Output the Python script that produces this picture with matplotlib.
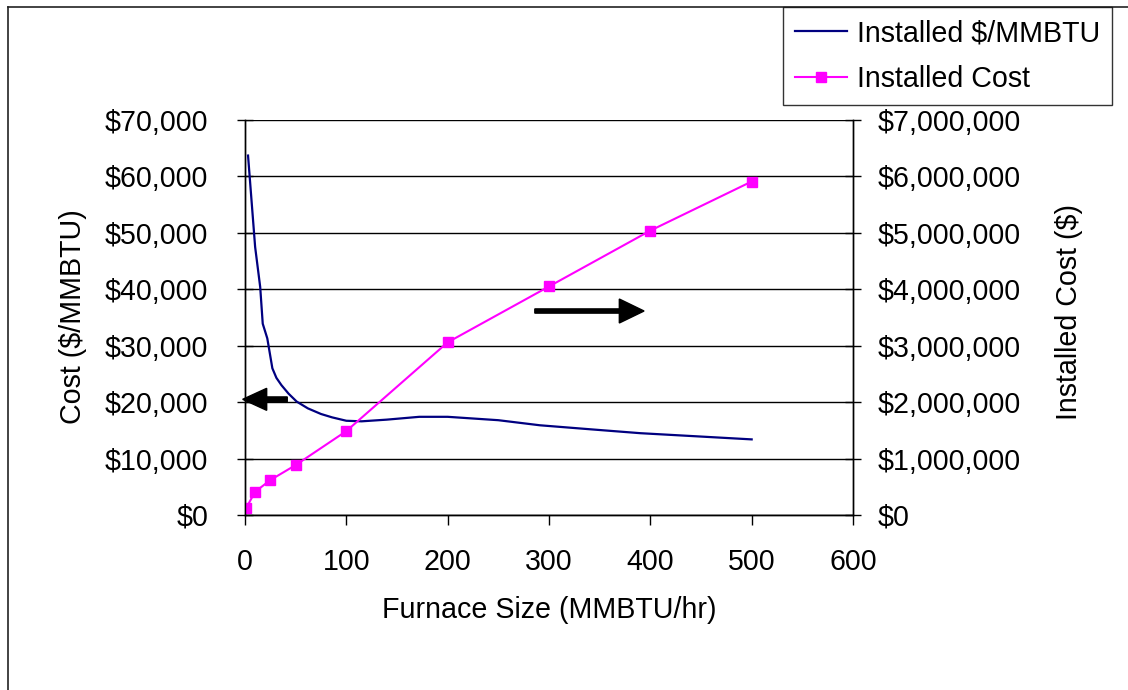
import matplotlib
matplotlib.use("Agg")
import matplotlib.pyplot as plt
from matplotlib.ticker import FuncFormatter, MultipleLocator
from matplotlib.patches import FancyArrow
from matplotlib.lines import Line2D

plt.rcParams['font.family'] = ['Liberation Sans', 'DejaVu Sans']

# ---- data ----
size_per_mmbtu = [3, 10, 15, 17.5, 22, 27, 31, 36, 43, 51, 62, 75, 86, 100, 115,
                  140, 172, 200, 250, 291, 340, 390, 450, 500]
cost_per_mmbtu = [63700, 47500, 40400, 33900, 31300, 26000, 24300, 23000, 21500,
                  20100, 18900, 17900, 17300, 16700, 16600, 16900, 17400, 17400,
                  16800, 15900, 15200, 14500, 13900, 13400]

size_installed = [1, 10, 25, 50, 100, 200, 300, 400, 500]
installed_cost = [118000, 412000, 619000, 885000, 1487000, 3060000, 4050000,
                  5040000, 5910000]

series_names = ["Installed $/MMBTU", "Installed Cost"]
x_label = "Furnace Size (MMBTU/hr)"
y_left_label = "Cost ($/MMBTU)"
y_right_label = "Installed Cost ($)"

FS = 20.6
W, H = 1128, 690
fig = plt.figure(figsize=(W / 100, H / 100), dpi=100)
ax = fig.add_axes([245 / W, 1 - 515 / H, (853 - 245) / W, (515 - 120) / H])
ax2 = ax.twinx()

# left axis
ax.set_xlim(0, 600)
ax.set_ylim(0, 70000)
ax.xaxis.set_major_locator(MultipleLocator(100))
ax.yaxis.set_major_locator(MultipleLocator(10000))
ax.yaxis.set_major_formatter(FuncFormatter(lambda v, p: "${:,.0f}".format(v)))
ax.grid(axis='y', color='black', linewidth=1)
ax.set_axisbelow(True)
ax.tick_params(axis='x', direction='out', length=7, width=1, labelsize=FS, pad=17)
ax.tick_params(axis='y', direction='inout', length=11, width=1, labelsize=FS, pad=21)

# right axis
ax2.set_ylim(0, 7000000)
ax2.yaxis.set_major_locator(MultipleLocator(1000000))
ax2.yaxis.set_major_formatter(FuncFormatter(lambda v, p: "${:,.0f}".format(v)))
ax2.tick_params(axis='y', direction='inout', length=11, width=1, labelsize=FS, pad=12.5)

for a in (ax, ax2):
    a.spines['top'].set_visible(False)
    for s in ('left', 'right', 'bottom'):
        a.spines[s].set_color('black')
        a.spines[s].set_linewidth(1)

l1, = ax.plot(size_per_mmbtu, cost_per_mmbtu, color='#000080', linewidth=1.6,
              label=series_names[0])
l2, = ax2.plot(size_installed, installed_cost, color='#FF00FF', linewidth=1.5,
               marker='s', markersize=7.5, label=series_names[1])

# arrows pointing to the axes
ax.add_patch(FancyArrow(41.7, 20500, -44.0, 0, width=850, head_width=3900,
                        head_length=23.7, length_includes_head=True,
                        color='black', clip_on=False, zorder=5))
ax.add_patch(FancyArrow(286, 36150, 107.8, 0, width=750, head_width=4250,
                        head_length=24.4, length_includes_head=True,
                        color='black', clip_on=False, zorder=5))

# axis labels
fig.text(((245 + 853) / 2) / W, 1 - 610 / H, x_label, fontsize=FS,
         ha='center', va='center')
fig.text(73 / W, 1 - 317 / H, y_left_label, fontsize=FS, rotation=90,
         ha='center', va='center')
fig.text(1069 / W, 1 - 312 / H, y_right_label, fontsize=FS, rotation=90,
         ha='center', va='center')

# legend
leg = fig.legend(handles=[l1, l2], loc='upper left',
                 bbox_to_anchor=(783 / W, 1 - 7 / H), borderaxespad=0,
                 fontsize=FS, frameon=True, fancybox=False, shadow=False,
                 handlelength=1.8, handletextpad=0.36, labelspacing=0.62,
                 borderpad=0.42)
leg.get_frame().set_edgecolor('black')
leg.get_frame().set_linewidth(1)

# outer chart border (top and left edges)
fig.add_artist(Line2D([8 / W, 1], [1 - 7 / H, 1 - 7 / H], color='#222222',
                      linewidth=1.2, transform=fig.transFigure))
fig.add_artist(Line2D([8 / W, 8 / W], [0, 1 - 7 / H], color='#222222',
                      linewidth=1.2, transform=fig.transFigure))

fig.savefig("out.png", dpi=100)
